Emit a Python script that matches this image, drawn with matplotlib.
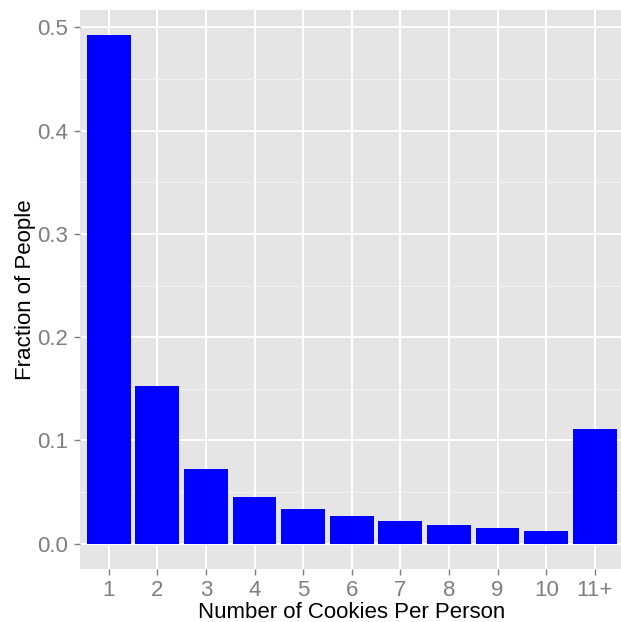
import matplotlib
matplotlib.use("Agg")
import matplotlib.pyplot as plt
import numpy as np

categories = ["1", "2", "3", "4", "5", "6", "7", "8", "9", "10", "11+"]
fractions = [0.4923, 0.1525, 0.0722, 0.0452, 0.0336, 0.0268, 0.0220, 0.0181, 0.0152, 0.0123, 0.1109]
yticks = [0.0, 0.1, 0.2, 0.3, 0.4, 0.5]

plt.rcParams['font.family'] = ['Liberation Sans', 'DejaVu Sans']

fig = plt.figure(figsize=(6.21, 6.22), dpi=100)
L, R, B, T = 79.5, 624.0, 569.0, 10.0
ax = fig.add_axes([L/621, (622-B)/622, (R-L)/621, (B-T)/622])
ax.set_facecolor('#e5e5e5')

x = np.arange(1, len(categories) + 1)
ax.bar(x, fractions, width=0.9, color='#0000ff', zorder=3)

ax.set_xlim(0.4, 11.6)
ax.set_ylim(-0.0246, 0.5169)
ax.set_xticks(x)
ax.set_xticklabels(categories)
ax.set_yticks(yticks)
ax.set_yticklabels([f"{v:.1f}" for v in yticks])
ax.set_yticks([0.05, 0.15, 0.25, 0.35, 0.45], minor=True)
ax.grid(which='major', color='white', linewidth=1.4, zorder=1)
ax.grid(which='minor', axis='y', color='#f2f2f2', linewidth=0.7, zorder=1)
ax.tick_params(which='minor', length=0)
ax.tick_params(which='major', colors='#7f7f7f', labelsize=16, length=4, width=1, pad=4)
for s in ax.spines.values():
    s.set_visible(False)
ax.set_axisbelow(True)

ax.set_xlabel("Number of Cookies Per Person", fontsize=16, color='black')
ax.set_ylabel("Fraction of People", fontsize=16, color='black')
ax.xaxis.label.set_va('baseline')
ax.yaxis.label.set_va('baseline')
ax.xaxis.set_label_coords((352 - L) / (R - L), (B - 618) / (B - T))
ax.yaxis.set_label_coords((31 - L) / (R - L), 0.5)

fig.savefig("out.png", dpi=100, facecolor='white')
